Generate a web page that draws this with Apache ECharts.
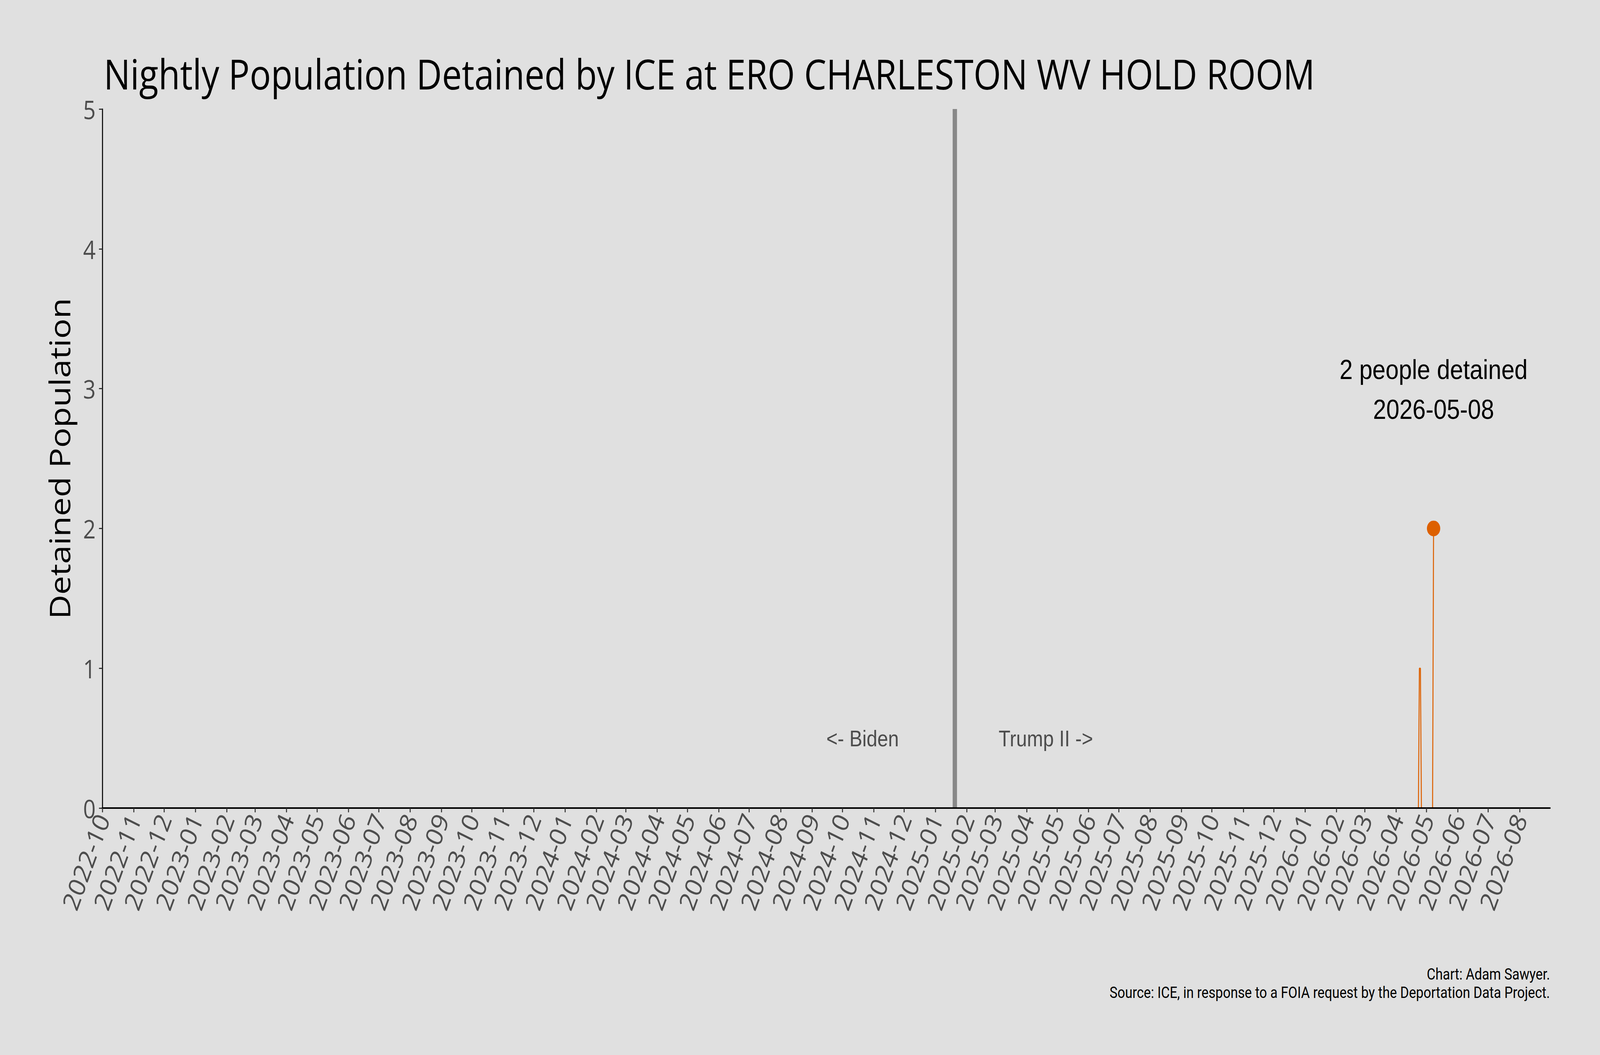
<!DOCTYPE html>
<html>
<head>
<meta charset="utf-8">
<script src="https://cdn.jsdelivr.net/npm/echarts@6/dist/echarts.min.js"></script>
<style>
  html, body { margin: 0; padding: 0; background: #e0e0e0; overflow: hidden; }
  #chart { width: 4800px; height: 2700px; transform-origin: 0 0; }
</style>
</head>
<body>
<div id="chart"></div>
<script>
// nightly counts, only the days around the changes (zeros elsewhere)
const dates = ['2022-10-01', '2026-04-23', '2026-04-24', '2026-04-25', '2026-04-26', '2026-05-07', '2026-05-08'];
const population = [0, 0, 1, 1, 0, 0, 2];

const inaugurationDate = '2025-01-20';
const eraLabels = ['<- Biden', 'Trump II ->'];
const eraLabelDates = ['2024-10-21', '2025-04-20'];
const eraLabelY = 0.5;

const yTicks = [0, 1, 2, 3, 4, 5];

const footerLines = [
  'Chart: Adam Sawyer.',
  'Source: ICE, in response to a FOIA request by the Deportation Data Project.'
];

const lastIdx = dates.length - 1;
const DAY = 24 * 3600 * 1000;
const orange = '#dd6000';
const sansUI = '"Open Sans", "Noto Sans", sans-serif';
const arial = '"Liberation Sans", Arial, sans-serif';

// the chart is laid out at 4800x2700; fit it to whatever window we get
const dom = document.getElementById('chart');
dom.style.transform = 'scale(' + (window.innerWidth / 4800) + ',' + (window.innerHeight / 2700) + ')';

const chart = echarts.init(dom, null, { renderer: 'svg', width: 4800, height: 2700 });

chart.setOption({
  backgroundColor: '#e0e0e0',
  animation: false,
  title: {
    text: 'Nightly Population Detained by ICE at ERO CHARLESTON WV HOLD ROOM',
    left: 306,
    top: 130,
    textStyle: { fontFamily: sansUI, fontSize: 106, fontWeight: 'normal', color: '#000' }
  },
  grid: { left: 307, right: 150, top: 279, bottom: 632, containLabel: false },
  xAxis: {
    type: 'time',
    min: dates[0],
    max: '2026-08-31',
    z: 5,
    minInterval: 28 * DAY,
    maxInterval: 31 * DAY,
    splitLine: { show: false },
    axisLine: { lineStyle: { color: '#000', width: 4 } },
    axisTick: { show: true, length: 11, lineStyle: { color: '#333', width: 3 } },
    axisLabel: {
      rotate: 67,
      margin: 18,
      hideOverlap: false,
      fontSize: 69,
      fontFamily: sansUI,
      color: '#4d4d4d',
      formatter: '{yyyy}-{MM}'
    }
  },
  yAxis: {
    type: 'value',
    min: yTicks[0],
    max: yTicks[yTicks.length - 1],
    interval: 1,
    name: 'Detained Population',
    nameLocation: 'middle',
    nameRotate: 90,
    nameGap: 86,
    nameTextStyle: { fontFamily: sansUI, fontSize: 86, color: '#000' },
    splitLine: { show: false },
    axisLine: { show: true, lineStyle: { color: '#000', width: 3 } },
    axisTick: { show: true, length: 10, lineStyle: { color: '#333', width: 3 } },
    axisLabel: { margin: 20, fontSize: 66, fontFamily: sansUI, color: '#4d4d4d' }
  },
  series: [
    {
      type: 'line',
      z: 2,
      data: dates.map((d, i) => [d, population[i]]),
      showSymbol: false,
      lineStyle: { color: orange, width: 3 },
      markLine: {
        silent: true,
        symbol: ['none', 'none'],
        label: { show: false },
        lineStyle: { color: '#888888', width: 13, type: 'solid' },
        data: [{ xAxis: inaugurationDate }]
      },
      markPoint: {
        silent: true,
        symbol: 'circle',
        symbolSize: 0,
        label: {
          show: true,
          position: 'inside',
          formatter: '{b}',
          fontFamily: arial,
          fontSize: 58,
          color: '#4d4d4d'
        },
        data: eraLabels.map((t, i) => ({ name: t, coord: [eraLabelDates[i], eraLabelY] }))
      }
    },
    {
      type: 'scatter',
      z: 6,
      data: [[dates[lastIdx], population[lastIdx]]],
      symbolSize: 40,
      itemStyle: { color: orange, opacity: 1 },
      label: {
        show: true,
        position: 'top',
        distance: 234,
        fontFamily: arial,
        fontSize: 71,
        lineHeight: 102,
        color: '#000',
        formatter: p => p.value[1] + ' people detained\n' + p.value[0]
      }
    }
  ],
  graphic: footerLines.map((t, i) => ({
    type: 'text',
    right: 150,
    top: 2474 + i * 47,
    style: {
      text: t,
      align: 'right',
      fontFamily: 'Roboto, "Open Sans", sans-serif',
      fontSize: 40,
      fill: '#000'
    }
  }))
});
</script>
</body>
</html>
